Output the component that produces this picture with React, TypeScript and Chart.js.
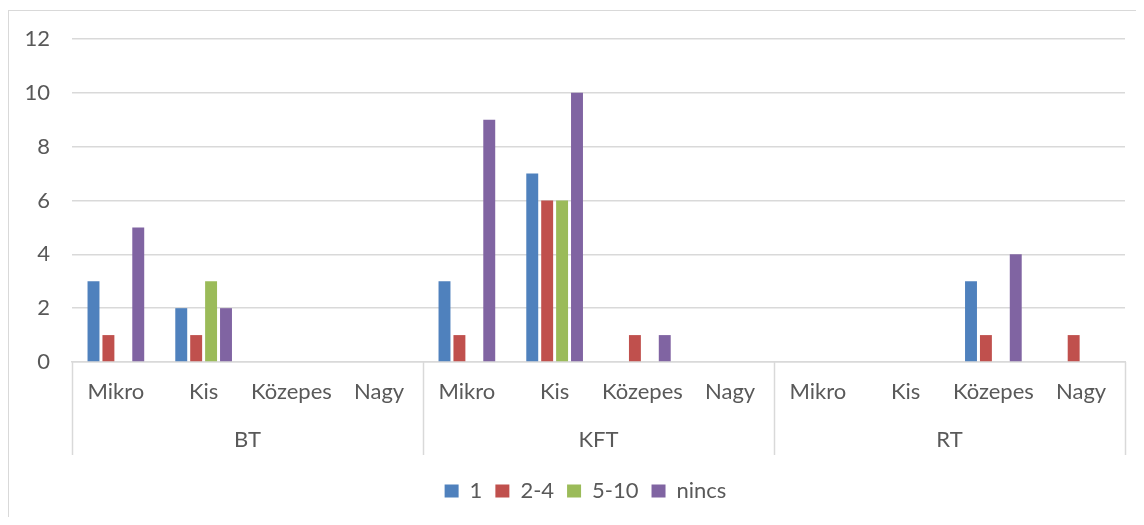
import React, { useEffect, useRef } from "react";
import { Chart, registerables } from "chart.js";

Chart.register(...registerables);

const subCategories = ["Mikro", "Kis", "Közepes", "Nagy", "Mikro", "Kis", "Közepes", "Nagy", "Mikro", "Kis", "Közepes", "Nagy"];
const groups = ["BT", "KFT", "RT"];
const series1 = [3, 2, 0, 0, 3, 7, 0, 0, 0, 0, 3, 0];
const series2to4 = [1, 1, 0, 0, 1, 6, 1, 0, 0, 0, 1, 1];
const series5to10 = [0, 3, 0, 0, 0, 6, 0, 0, 0, 0, 0, 0];
const seriesNincs = [5, 2, 0, 0, 9, 10, 1, 0, 0, 0, 4, 0];
const yTicks = [0, 2, 4, 6, 8, 10, 12];

const FONT = "Lato, 'Open Sans', sans-serif";
const FS = 22;
const GRID = "#d9d9d9";
const LW = 1.5;
const TEXT = "#595959";

const separatorPlugin = {
  id: "groupSeparators",
  afterLayout(chart: any) {
    const lg = chart.legend;
    if (lg) {
      lg.left += 18.5;
      lg.right += 18.5;
    }
  },
  afterDraw(chart: any) {
    const x = chart.scales.x;
    const ctx = chart.ctx;
    const top = chart.chartArea.bottom;
    const bottom = top + 93;
    ctx.save();
    ctx.strokeStyle = GRID;
    ctx.lineWidth = LW;
    for (let k = 0; k <= groups.length; k++) {
      const px = Math.round(x.left + (k * x.width) / groups.length) + 0.5;
      ctx.beginPath();
      ctx.moveTo(px, top);
      ctx.lineTo(px, bottom);
      ctx.stroke();
    }
    ctx.restore();
  },
};

export default function App() {
  const ref = useRef<HTMLCanvasElement | null>(null);

  useEffect(() => {
    if (!ref.current) return;
    const mk = (label: string, data: number[], color: string) => ({
      label,
      data,
      backgroundColor: color,
      borderWidth: 0,
      xAxisID: "x",
      yAxisID: "y",
      categoryPercentage: 0.68,
      barPercentage: 0.8,
    });
    const chart = new Chart(ref.current, {
      type: "bar",
      data: {
        labels: subCategories,
        datasets: [
          mk("1", series1, "#4F81BD"),
          mk("2-4", series2to4, "#C0504D"),
          mk("5-10", series5to10, "#9BBB59"),
          mk("nincs", seriesNincs, "#8064A2"),
        ],
      },
      options: {
        animation: false,
        responsive: false,
        maintainAspectRatio: false,
        color: TEXT,
        font: { family: FONT, size: FS },
        layout: { padding: { top: 28, right: 18, left: 0, bottom: 5 } },
        plugins: {
          tooltip: { enabled: false },
          legend: {
            position: "bottom",
            labels: {
              boxWidth: 14,
              boxHeight: 13,
              padding: 13,
              color: TEXT,
              font: { family: FONT, size: FS },
            },
          },
        },
        scales: {
          y: {
            min: 0,
            max: 12,
            afterBuildTicks: (s: any) => {
              s.ticks = yTicks.map((v) => ({ value: v }));
            },
            afterFit: (s: any) => {
              s.width = 63;
              s.paddingTop = 0;
              s.paddingBottom = 0;
            },
            grid: { color: GRID, drawTicks: false, lineWidth: LW },
            border: { display: false },
            ticks: { padding: 22, color: TEXT, font: { family: FONT, size: FS } },
          },
          x: {
            type: "category",
            position: "bottom",
            weight: 0,
            afterFit: (s: any) => {
              s.height = 56;
            },
            grid: { display: false, drawTicks: false },
            border: { display: true, color: GRID, width: LW },
            ticks: { padding: 17, maxRotation: 0, autoSkip: false, color: TEXT, font: { family: FONT, size: FS } },
          },
          x2: {
            type: "category",
            position: "bottom",
            weight: 1,
            labels: groups,
            offset: true,
            afterFit: (s: any) => {
              s.height = 49;
            },
            grid: { display: false, drawTicks: false },
            border: { display: false },
            ticks: { padding: 9, maxRotation: 0, autoSkip: false, color: TEXT, font: { family: FONT, size: FS } },
          },
        },
      } as any,
      plugins: [separatorPlugin],
    });
    return () => chart.destroy();
  }, []);

  return (
    <div style={{ paddingTop: 2 }}>
      <div
        style={{
          width: 1136,
          height: 507,
          boxSizing: "border-box",
          borderTop: `1px solid ${GRID}`,
          borderLeft: `1px solid ${GRID}`,
          borderRight: `1px solid ${GRID}`,
          background: "#fff",
        }}
      >
        <canvas ref={ref} width={1134} height={506} style={{ display: "block", width: 1134, height: 506 }} />
      </div>
    </div>
  );
}
